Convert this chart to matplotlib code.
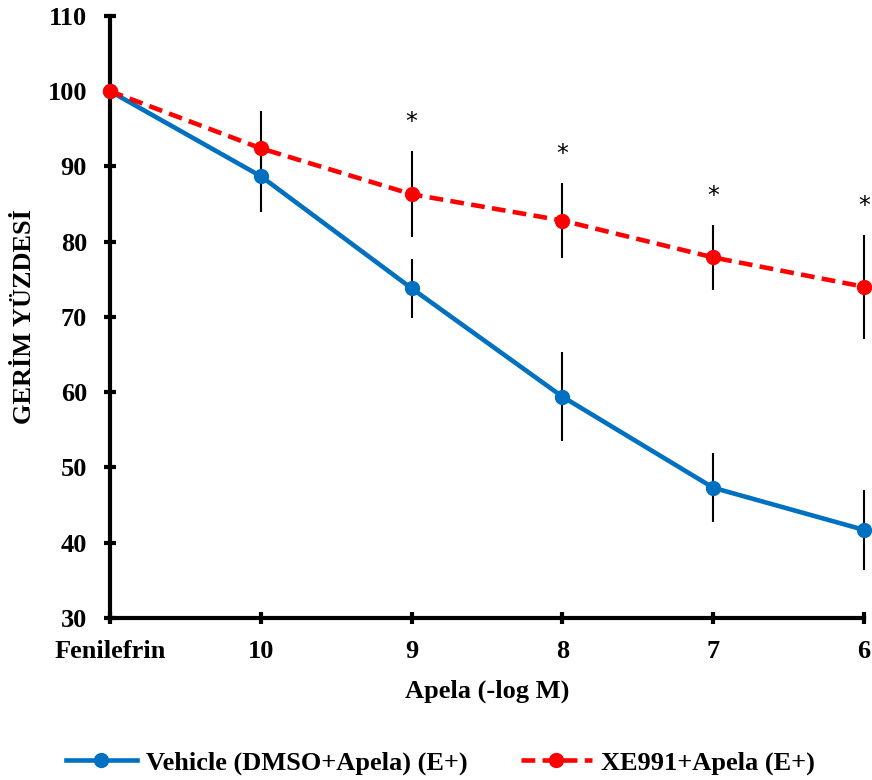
import numpy as np
import matplotlib.pyplot as plt

plt.rcParams['font.family'] = ['Liberation Serif', 'DejaVu Serif']
plt.rcParams['font.weight'] = 'bold'

categories = ["Fenilefrin", "10", "9", "8", "7", "6"]
vehicle = [100, 88.7, 73.8, 59.4, 47.3, 41.7]
vehicle_err = [0, 4.8, 3.9, 5.9, 4.6, 5.3]
xe991 = [100, 92.4, 86.3, 82.8, 77.9, 74.0]
xe991_err = [0, 5.0, 5.7, 5.0, 4.3, 6.9]
signif = ["", "", "*", "*", "*", "*"]

x = np.arange(len(categories))

fig = plt.figure(figsize=(8.72, 7.8), dpi=100)
ax = fig.add_axes([0.126, 0.2077, 0.865, 0.772])

ax.errorbar(x, vehicle, yerr=vehicle_err, fmt='none', ecolor='black', elinewidth=1.5, capsize=0, zorder=2, clip_on=False)
ax.errorbar(x, xe991, yerr=xe991_err, fmt='none', ecolor='black', elinewidth=1.5, capsize=0, zorder=2, clip_on=False)
ax.plot(x, vehicle, '-o', color='#0070C0', lw=3.3, ms=10, label="Vehicle (DMSO+Apela) (E+)", zorder=3, clip_on=False)
ax.plot(x, xe991, '--o', color='#FF0000', lw=3.3, ms=10, dashes=(3, 1.6), label="XE991+Apela (E+)", zorder=4, clip_on=False)

for xi, y, e, s in zip(x, xe991, xe991_err, signif):
    if s:
        ax.annotate(s, (xi, y + e), xytext=(0, 21), textcoords='offset points', ha='center', va='center',
                    fontsize=17, fontweight='normal', family=['DejaVu Sans'])

ax.set_xlim(0, 5)
ax.set_ylim(30, 110)
ax.set_yticks(range(30, 111, 10))
ax.set_xticks(x)
ax.set_xticklabels(categories)
for side in ['top', 'right']:
    ax.spines[side].set_visible(False)
for side in ['left', 'bottom']:
    ax.spines[side].set_linewidth(3)
ax.tick_params(direction='inout', length=9, width=3, labelsize=19)
ax.tick_params(axis='y', pad=12)
ax.tick_params(axis='x', pad=11)
ax.set_xlabel("Apela (-log M)", fontsize=19, fontweight='bold', labelpad=12)
ax.set_ylabel("GERİM YÜZDESİ", fontsize=19, fontweight='bold', labelpad=8)

leg = fig.legend(loc='lower center', bbox_to_anchor=(0.505, -0.024), ncol=2, frameon=False, fontsize=19,
                 handlelength=2.7, columnspacing=2.0, handletextpad=0.35)

fig.savefig("out.png", dpi=100)
